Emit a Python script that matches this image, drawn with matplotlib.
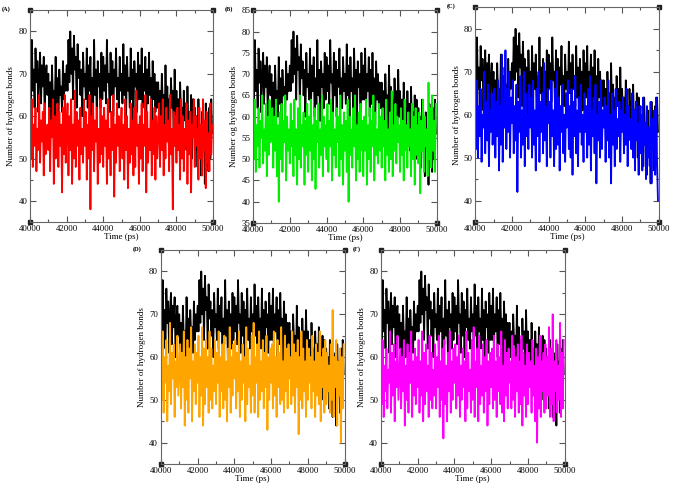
import numpy as np
import matplotlib.pyplot as plt
from matplotlib.ticker import MultipleLocator

# tiempo (ps), un punto cada 50 ps
tiempo = np.arange(40000, 50000, 50)

# serie de referencia (negra), la misma en los cinco paneles
negro = [74,64,78,66,71,62,76,68,73,61,70,75,63,72,67,74,60,69,72,65,
         70,62,68,58,72,64,66,60,74,63,69,57,71,65,67,61,73,64,70,66,
         72,66,78,68,80,70,76,64,79,71,74,62,77,69,73,65,71,60,75,67,
         70,64,76,62,72,66,74,60,69,63,78,65,71,59,73,67,70,62,75,64,
         74,66,72,63,78,68,70,61,75,65,73,60,71,67,76,64,69,62,74,66,
         70,63,77,65,72,60,74,66,69,62,76,64,71,58,73,67,70,61,75,64,
         72,64,76,62,70,66,74,60,71,63,75,65,69,58,73,64,70,61,68,62,
         68,60,66,58,70,63,65,56,72,61,67,59,64,57,69,62,66,55,71,60,
         66,58,64,56,68,60,62,54,66,59,63,52,67,57,61,55,65,50,64,58,
         62,52,60,48,64,55,58,46,61,53,57,44,63,54,59,47,62,50,64,56]

rojo = [60,50,64,48,58,53,62,47,57,52,65,49,59,54,61,46,63,51,56,58,
        52,62,47,59,55,64,44,60,50,57,63,48,61,53,58,42,62,51,65,49,
        57,63,46,60,52,64,44,58,50,66,48,61,53,59,45,62,51,57,49,64,
        53,61,45,58,50,65,38,60,52,63,47,59,54,62,44,57,49,64,51,60,
        48,62,53,59,44,64,50,57,46,61,52,65,41,58,49,63,53,60,47,56,
        62,50,58,45,64,52,60,43,57,49,63,51,59,46,62,48,66,53,58,44,
        60,50,63,47,58,53,65,42,61,49,57,52,64,46,59,51,62,45,60,50,
        56,63,48,60,52,64,46,58,50,62,54,59,47,65,51,57,38,61,53,60,
        49,62,52,58,45,64,50,60,47,57,53,63,44,59,51,61,42,58,55,64,
        48,60,53,57,45,62,50,58,46,64,52,59,43,61,49,56,47,63,51,58]

verde = [61,50,64,47,58,53,62,48,59,55,65,49,57,52,63,46,60,51,64,54,
         57,62,48,60,52,64,46,58,40,61,50,63,47,59,54,65,45,60,52,57,
         49,63,53,59,46,64,51,57,44,62,50,65,48,58,53,61,44,59,51,63,
         47,60,52,64,45,58,50,62,43,59,54,63,48,57,51,65,46,60,53,58,
         50,63,47,59,53,64,45,61,51,57,48,62,54,60,46,65,50,58,44,61,
         52,59,47,64,40,60,51,57,48,62,53,65,45,58,50,61,47,63,52,59,
         46,60,52,64,44,58,50,62,47,59,53,65,45,61,51,57,49,63,52,60,
         48,62,53,59,45,64,51,57,47,61,50,66,46,58,52,63,49,60,54,58,
         47,62,51,59,45,64,52,58,48,61,53,57,46,63,50,60,44,62,51,58,
         49,61,42,59,52,64,47,60,53,57,46,68,50,62,48,65,52,59,47,63]

azul = [64,52,68,50,62,55,66,49,60,57,70,51,63,54,67,48,61,56,65,53,
        60,66,50,63,55,68,47,62,53,74,49,64,57,75,52,66,56,70,50,64,
        58,68,51,62,54,67,42,63,56,69,50,61,53,70,48,65,55,60,52,67,
        57,64,50,68,53,61,47,66,55,70,49,63,56,65,51,72,54,62,48,66,
        58,63,50,68,55,61,48,66,52,70,53,64,47,62,56,67,51,60,49,65,
        57,68,52,62,50,66,46,63,55,69,51,61,48,64,56,67,53,60,49,65,
        56,62,50,66,53,69,47,61,55,64,51,67,44,60,54,63,50,68,52,61,
        57,64,49,62,54,68,50,60,44,65,53,61,48,66,52,59,55,63,49,61,
        56,64,51,60,53,66,48,62,55,59,52,65,50,61,47,63,54,58,46,62,
        51,60,47,64,53,58,45,62,50,57,48,63,44,59,52,61,46,64,49,40]

naranja = [62,50,66,47,60,54,64,45,58,52,68,49,61,55,63,46,59,53,65,51,
           57,63,48,61,53,66,44,60,50,64,47,62,55,67,45,59,52,63,49,61,
           54,65,46,60,51,67,44,62,49,64,53,60,47,66,50,62,48,58,52,64,
           49,61,54,66,46,60,52,63,48,65,50,59,45,62,53,67,47,60,51,63,
           55,64,48,61,52,66,46,59,50,63,54,60,45,67,49,62,53,58,47,65,
           51,68,47,60,54,63,46,66,50,59,52,64,48,61,53,65,43,60,50,62,
           54,63,48,66,51,60,46,64,53,61,49,67,50,59,47,65,52,62,48,63,
           55,60,49,66,51,63,47,61,53,64,42,60,50,66,48,62,52,59,46,64,
           50,62,54,60,48,65,52,59,46,63,51,61,49,66,45,60,53,62,47,64,
           49,61,52,58,47,63,50,71,46,60,53,64,44,59,51,62,40,60,48,63]

magenta = [60,49,64,46,58,52,62,48,57,54,66,47,61,51,63,45,59,53,65,50,
           56,62,48,60,52,64,44,58,50,63,47,61,54,66,46,59,51,62,49,60,
           53,64,47,59,51,66,45,61,49,63,52,58,46,65,50,61,48,57,51,63,
           48,60,53,65,46,59,50,62,41,64,49,58,45,61,52,66,47,59,50,62,
           54,63,48,60,51,65,46,58,50,62,53,59,45,66,48,61,52,57,47,64,
           50,67,46,59,53,62,45,65,49,58,51,63,47,60,52,64,44,59,49,61,
           53,62,48,65,50,59,46,63,52,60,49,66,47,58,45,64,51,61,48,62,
           54,59,48,65,50,62,46,60,52,63,47,59,49,65,44,61,51,58,46,63,
           49,61,53,59,47,64,51,58,45,62,40,60,48,65,46,59,52,61,47,63,
           48,60,51,67,46,62,49,70,45,59,52,64,47,58,50,68,46,61,48,64]

plt.rcParams['font.family'] = 'Liberation Serif'

fig = plt.figure(figsize=(6.73, 4.88), dpi=100)

# paneles: etiqueta, serie, color, rect [izq, abajo, ancho, alto], ylabel, paso mayor y
paneles = [
    ("(A)", rojo, "#ff0000", [0.0446, 0.545, 0.272, 0.434], "Number of hydrogen bonds", 10),
    ("(B)", verde, "#00ee00", [0.376, 0.543, 0.273, 0.436], "Number og hydrogen bonds", 5),
    ("(C)", azul, "#0000ff", [0.706, 0.545, 0.273, 0.440], "Number of hydrogen bonds", 10),
    ("(D)", naranja, "#ffa500", [0.239, 0.049, 0.273, 0.4385], "Number of hydrogen bonds", 10),
    ("(F)", magenta, "#ff00ff", [0.566, 0.049, 0.273, 0.4385], "Number of hydrogen bonds", 10),
]

for etiqueta, serie, color, rect, ylab, paso in paneles:
    ax = fig.add_axes(rect)
    ax.plot(tiempo, negro, color="black", lw=1.3)
    ax.plot(tiempo, serie, color=color, lw=1.3)
    ax.set_xlim(40000, 50000)
    ax.set_ylim(35, 85)
    ax.xaxis.set_major_locator(MultipleLocator(2000))
    ax.xaxis.set_minor_locator(MultipleLocator(1000))
    ax.yaxis.set_minor_locator(MultipleLocator(5))
    if paso == 5:
        ax.set_yticks(range(35, 86, 5))
    else:
        ax.set_yticks(range(40, 81, 10))
    ax.tick_params(which="both", direction="in", top=True, right=True,
                   labelsize=6.3, color="#555555", pad=2)
    ax.tick_params(which="major", length=4, width=0.8)
    ax.tick_params(which="minor", length=2, width=0.8)
    for s in ax.spines.values():
        s.set_color("#666666")
        s.set_linewidth(0.8)
    ax.set_xlabel("Time (ps)", fontsize=6.5, labelpad=0)
    ax.set_ylabel(ylab, fontsize=6.5, labelpad=2)
    # cuadraditos en las esquinas (estilo xmgrace)
    ax.plot([0, 1, 0, 1], [0, 0, 1, 1], "s", color="#222222", ms=3,
            transform=ax.transAxes, clip_on=False)
    fig.text(rect[0] - 0.042, rect[1] + rect[3] - 0.003, etiqueta,
             fontsize=4.5, fontweight="bold", va="bottom")

plt.savefig("out.png", dpi=100)
